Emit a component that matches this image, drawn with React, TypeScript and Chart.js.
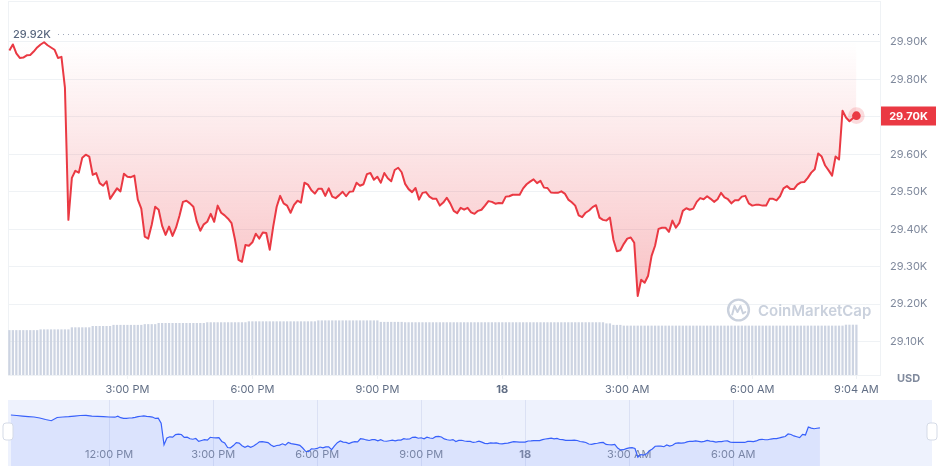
import { useEffect, useRef } from 'react';
import { Chart, registerables } from 'chart.js';

Chart.register(...registerables);

const FONT = 'Inter, "Noto Sans", "DejaVu Sans", sans-serif';

// Price (thousand USD) every 5 minutes, starting 12:10 PM (minute 10 after noon)
const priceValues = [
  29.877, 29.893, 29.869, 29.857, 29.858, 29.864, 29.865, 29.874, 29.885, 29.893,
  29.899, 29.891, 29.885, 29.879, 29.857, 29.860, 29.778, 29.425, 29.537, 29.556,
  29.551, 29.591, 29.599, 29.594, 29.545, 29.550, 29.523, 29.516, 29.528, 29.481,
  29.495, 29.509, 29.501, 29.548, 29.540, 29.539, 29.543, 29.479, 29.455, 29.380,
  29.375, 29.412, 29.460, 29.452, 29.409, 29.385, 29.407, 29.382, 29.404, 29.436,
  29.473, 29.476, 29.469, 29.460, 29.420, 29.396, 29.413, 29.420, 29.441, 29.420,
  29.463, 29.444, 29.437, 29.428, 29.416, 29.372, 29.318, 29.313, 29.358, 29.356,
  29.365, 29.388, 29.375, 29.391, 29.390, 29.345, 29.407, 29.460, 29.489, 29.469,
  29.463, 29.444, 29.465, 29.476, 29.471, 29.524, 29.519, 29.504, 29.495, 29.508,
  29.508, 29.489, 29.509, 29.487, 29.483, 29.491, 29.500, 29.488, 29.500, 29.501,
  29.524, 29.516, 29.520, 29.547, 29.550, 29.532, 29.540, 29.524, 29.550, 29.536,
  29.528, 29.558, 29.564, 29.552, 29.521, 29.507, 29.499, 29.510, 29.479, 29.497,
  29.499, 29.487, 29.481, 29.481, 29.463, 29.471, 29.484, 29.469, 29.449, 29.443,
  29.457, 29.452, 29.457, 29.445, 29.441, 29.449, 29.452, 29.463, 29.475, 29.473,
  29.468, 29.470, 29.469, 29.487, 29.488, 29.492, 29.492, 29.492, 29.509, 29.520,
  29.527, 29.533, 29.523, 29.529, 29.511, 29.510, 29.498, 29.497, 29.497, 29.501,
  29.495, 29.479, 29.472, 29.463, 29.437, 29.432, 29.444, 29.450, 29.459, 29.464,
  29.431, 29.425, 29.423, 29.431, 29.372, 29.341, 29.344, 29.361, 29.375, 29.378,
  29.364, 29.222, 29.265, 29.257, 29.276, 29.329, 29.356, 29.401, 29.404, 29.404,
  29.393, 29.423, 29.404, 29.417, 29.449, 29.456, 29.452, 29.455, 29.473, 29.483,
  29.480, 29.488, 29.481, 29.473, 29.480, 29.497, 29.485, 29.480, 29.469, 29.477,
  29.477, 29.487, 29.489, 29.469, 29.463, 29.465, 29.465, 29.463, 29.463, 29.481,
  29.481, 29.477, 29.488, 29.509, 29.515, 29.507, 29.507, 29.519, 29.525, 29.526,
  29.537, 29.551, 29.560, 29.602, 29.594, 29.570, 29.557, 29.543, 29.594, 29.586,
  29.716, 29.698, 29.688, 29.696, 29.703,
];

// 24h volume (billion USD), same timestamps as the prices
const volumeValues = [
  12.0, 12.0, 12.0, 12.0, 12.0, 12.0, 12.0, 12.0, 12.0,
  12.2, 12.2, 12.2, 12.2, 12.2, 12.2, 12.2, 12.2, 12.2,
  12.75, 12.75, 12.75, 12.75, 12.75, 12.75,
  13.1, 13.1, 13.1, 13.1, 13.1, 13.1,
  13.4, 13.4, 13.4, 13.4, 13.4, 13.4, 13.4, 13.4, 13.4,
  13.6, 13.6, 13.6, 13.6,
  13.9, 13.9, 13.9, 13.9, 13.9, 13.9, 13.9, 13.9, 13.9, 13.9, 13.9, 13.9, 13.9, 13.9,
  14.1, 14.1, 14.1, 14.1, 14.1, 14.1, 14.1, 14.1, 14.1, 14.1, 14.1, 14.1,
  14.35, 14.35, 14.35, 14.35, 14.35, 14.35, 14.35, 14.35, 14.35, 14.35,
  14.35, 14.35, 14.35, 14.35, 14.35, 14.35, 14.35, 14.35, 14.35, 14.35,
  14.6, 14.6, 14.6, 14.6, 14.6, 14.6, 14.6, 14.6, 14.6,
  14.6, 14.6, 14.6, 14.6, 14.6, 14.6, 14.6, 14.6, 14.6,
  14.2, 14.2, 14.2, 14.2, 14.2, 14.2, 14.2,
  14.1, 14.1, 14.1, 14.1, 14.1, 14.1, 14.1, 14.1, 14.1, 14.1,
  14.1, 14.1, 14.1, 14.1, 14.1, 14.1, 14.1, 14.1, 14.1, 14.1,
  14.1, 14.1, 14.1, 14.1, 14.1, 14.1, 14.1, 14.1, 14.1, 14.1,
  14.1, 14.1, 14.1, 14.1, 14.1, 14.1, 14.1, 14.1, 14.1, 14.1,
  14.1, 14.1, 14.1, 14.1, 14.1, 14.1, 14.1, 14.1, 14.1, 14.1,
  14.1, 14.1, 14.1, 14.1, 14.1, 14.1, 14.1, 14.1,
  13.8, 13.8,
  13.4, 13.4, 13.4,
  13.2, 13.2, 13.2, 13.2, 13.2, 13.2, 13.2, 13.2, 13.2, 13.2,
  13.2, 13.2, 13.2, 13.2, 13.2, 13.2, 13.2, 13.2, 13.2, 13.2,
  13.2, 13.2, 13.2, 13.2, 13.2, 13.2, 13.2, 13.2, 13.2, 13.2,
  13.2, 13.2, 13.2, 13.2, 13.2, 13.2, 13.2, 13.2, 13.2, 13.2,
  13.2, 13.2, 13.2, 13.2, 13.2, 13.2, 13.2, 13.2, 13.2, 13.2,
  13.2, 13.2, 13.2, 13.2, 13.2, 13.2, 13.2, 13.2, 13.2, 13.2,
  13.2, 13.2, 13.2, 13.2,
  13.45, 13.45, 13.45, 13.45,
];

// Navigator: earlier prices every 10 minutes from 9:10 AM (minute -170) to 12:00 PM
const navPrePrices = [
  29.913, 29.905, 29.896, 29.888, 29.880, 29.864, 29.839, 29.819, 29.872,
  29.880, 29.885, 29.896, 29.905, 29.908, 29.896, 29.891, 29.888, 29.880,
];

const priceTickValues = [29.1, 29.2, 29.3, 29.4, 29.5, 29.6, 29.7, 29.8, 29.9];
const xTickMinutes = [180, 360, 540, 720, 900, 1080, 1230];
const xTickLabels = ['3:00 PM', '6:00 PM', '9:00 PM', '18', '3:00 AM', '6:00 AM', '9:04 AM'];
const navTickMinutes = [0, 180, 360, 540, 720, 900, 1080];
const navTickLabels = ['12:00 PM', '3:00 PM', '6:00 PM', '9:00 PM', '18', '3:00 AM', '6:00 AM'];
const high24h = 29.922;
const openPrice = 29.9;

const FIRST_MINUTE = 10;
const STEP_MINUTES = 5;
const NAV_FIRST_MINUTE = -170;
const NAV_STEP_MINUTES = 10;

const RED = '#ea3943';

const mainDecor = {
  id: 'mainDecor',
  beforeDatasetsDraw(chart: any) {
    const { ctx, chartArea: a } = chart;
    ctx.save();
    ctx.strokeStyle = '#eff2f5';
    ctx.lineWidth = 1;
    ctx.beginPath();
    ctx.moveTo(a.left, a.top + 0.5);
    ctx.lineTo(a.right, a.top + 0.5);
    ctx.moveTo(a.left + 0.5, a.top);
    ctx.lineTo(a.left + 0.5, a.bottom);
    ctx.stroke();

    // watermark
    const cx = a.right - 141.5;
    const cy = a.bottom - 65;
    const wm = '#cad1dd';
    ctx.strokeStyle = wm;
    ctx.lineWidth = 2.4;
    ctx.beginPath();
    ctx.arc(cx, cy, 10.4, 0, Math.PI * 2);
    ctx.stroke();
    ctx.lineJoin = 'round';
    ctx.lineCap = 'round';
    ctx.lineWidth = 2;
    ctx.beginPath();
    ctx.moveTo(cx - 6.3, cy + 4.5);
    ctx.lineTo(cx - 4, cy - 4);
    ctx.lineTo(cx - 1, cy + 2);
    ctx.lineTo(cx + 2, cy - 4);
    ctx.lineTo(cx + 4.5, cy + 3.5);
    ctx.lineTo(cx + 6.8, cy + 2);
    ctx.stroke();
    ctx.fillStyle = wm;
    ctx.font = `600 15px ${FONT}`;
    ctx.textAlign = 'left';
    ctx.textBaseline = 'middle';
    ctx.fillText('CoinMarketCap', a.right - 122, cy + 1);
    ctx.restore();
  },
  afterDatasetsDraw(chart: any) {
    const { ctx, chartArea: a, scales } = chart;
    ctx.save();
    const yHigh = Math.round(scales.y.getPixelForValue(high24h)) + 0.5;
    ctx.strokeStyle = '#a1a9bb';
    ctx.lineWidth = 1;
    ctx.setLineDash([1, 4]);
    ctx.beginPath();
    ctx.moveTo(a.left + 50, yHigh);
    ctx.lineTo(a.right, yHigh);
    ctx.stroke();
    ctx.setLineDash([]);
    ctx.fillStyle = '#58667e';
    ctx.font = `500 11px ${FONT}`;
    ctx.textAlign = 'left';
    ctx.textBaseline = 'middle';
    ctx.fillText(high24h.toFixed(2) + 'K', a.left + 5, yHigh);

    const meta = chart.getDatasetMeta(0);
    const last = meta.data[meta.data.length - 1];
    ctx.fillStyle = 'rgba(234,57,67,0.18)';
    ctx.beginPath();
    ctx.arc(last.x, last.y, 8.3, 0, Math.PI * 2);
    ctx.fill();
    ctx.fillStyle = RED;
    ctx.beginPath();
    ctx.arc(last.x, last.y, 4.3, 0, Math.PI * 2);
    ctx.fill();
    ctx.restore();
  },
  afterDraw(chart: any) {
    const { ctx, chartArea: a } = chart;
    const meta = chart.getDatasetMeta(0);
    const last = meta.data[meta.data.length - 1];
    const lastVal = priceValues[priceValues.length - 1];
    ctx.save();
    ctx.fillStyle = RED;
    ctx.fillRect(a.right + 1, Math.round(last.y) - 9.5, 55, 19);
    ctx.fillStyle = '#ffffff';
    ctx.font = `bold 11px ${FONT}`;
    ctx.textAlign = 'center';
    ctx.textBaseline = 'middle';
    ctx.fillText(lastVal.toFixed(2) + 'K', a.right + 28.5, Math.round(last.y) + 0.5);

    ctx.fillStyle = '#808a9d';
    ctx.font = `bold 11px ${FONT}`;
    ctx.fillText('USD', a.right + 28.5, a.bottom + 4);
    ctx.restore();
  },
};

const navDecor = {
  id: 'navDecor',
  beforeDraw(chart: any) {
    const { ctx, chartArea: a } = chart;
    ctx.save();
    ctx.fillStyle = '#eef2fd';
    ctx.fillRect(a.left, a.top, a.right - a.left, a.bottom - a.top);
    ctx.restore();
  },
  beforeDatasetsDraw(chart: any) {
    const { ctx, chartArea: a, scales } = chart;
    ctx.save();
    ctx.strokeStyle = '#dbe1f4';
    ctx.lineWidth = 1;
    navTickMinutes.forEach((m) => {
      const x = Math.round(scales.x.getPixelForValue(m)) + 0.5;
      ctx.beginPath();
      ctx.moveTo(x, a.top);
      ctx.lineTo(x, a.bottom);
      ctx.stroke();
    });
    ctx.textAlign = 'center';
    ctx.textBaseline = 'middle';
    navTickMinutes.forEach((m, i) => {
      const x = scales.x.getPixelForValue(m);
      const lbl = navTickLabels[i];
      ctx.font = `${lbl === '18' ? 'bold ' : ''}11px ${FONT}`;
      ctx.fillStyle = '#808a9d';
      ctx.fillText(lbl, x, a.bottom - 11);
    });
    ctx.restore();
  },
  afterDraw(chart: any) {
    const { ctx, chartArea: a } = chart;
    ctx.save();
    [a.left, a.right].forEach((hx: number) => {
      const x = hx - 5;
      const y = 23;
      const w = 10;
      const h = 17;
      const r = 3;
      ctx.beginPath();
      ctx.moveTo(x + r, y);
      ctx.lineTo(x + w - r, y);
      ctx.quadraticCurveTo(x + w, y, x + w, y + r);
      ctx.lineTo(x + w, y + h - r);
      ctx.quadraticCurveTo(x + w, y + h, x + w - r, y + h);
      ctx.lineTo(x + r, y + h);
      ctx.quadraticCurveTo(x, y + h, x, y + h - r);
      ctx.lineTo(x, y + r);
      ctx.quadraticCurveTo(x, y, x + r, y);
      ctx.closePath();
      ctx.fillStyle = '#ffffff';
      ctx.fill();
      ctx.strokeStyle = '#d5dbe7';
      ctx.lineWidth = 1;
      ctx.stroke();
    });
    ctx.restore();
  },
};

export default function App() {
  const mainRef = useRef<HTMLCanvasElement | null>(null);
  const navRef = useRef<HTMLCanvasElement | null>(null);

  useEffect(() => {
    if (!mainRef.current || !navRef.current) return;
    Chart.defaults.font.family = FONT;

    const pricePoints = priceValues.map((p, i) => ({ x: FIRST_MINUTE + i * STEP_MINUTES, y: p }));
    const volumePoints = volumeValues.map((v, i) => ({ x: FIRST_MINUTE + i * STEP_MINUTES, y: v }));

    const main = new Chart(mainRef.current, {
      type: 'line',
      data: {
        datasets: [
          {
            type: 'line',
            label: 'Price',
            data: pricePoints,
            xAxisID: 'x',
            yAxisID: 'y',
            borderColor: RED,
            borderWidth: 2,
            borderJoinStyle: 'round',
            pointRadius: 0,
            tension: 0,
            fill: { value: openPrice },
            backgroundColor: (c: any) => {
              const chart = c.chart;
              if (!chart.chartArea || !chart.scales.y) return 'rgba(234,57,67,0.12)';
              const top = chart.scales.y.getPixelForValue(openPrice);
              const bottom = chart.scales.y.getPixelForValue(29.2);
              const g = chart.ctx.createLinearGradient(0, top, 0, bottom);
              g.addColorStop(0, 'rgba(234,57,67,0.0)');
              g.addColorStop(1, 'rgba(234,57,67,0.32)');
              return g;
            },
            order: 1,
          } as any,
          {
            type: 'bar',
            label: 'Volume',
            data: volumePoints,
            xAxisID: 'x',
            yAxisID: 'yVol',
            backgroundColor: '#cdd4e2',
            barPercentage: 0.65,
            categoryPercentage: 1,
            order: 2,
          } as any,
        ],
      },
      options: {
        responsive: false,
        animation: false,
        events: [],
        layout: { padding: { left: 8, top: 1, right: 0, bottom: 0 } },
        plugins: { legend: { display: false }, tooltip: { enabled: false } },
        scales: {
          x: {
            type: 'linear',
            offset: false,
            min: 8,
            max: 1264,
            afterBuildTicks: (s: any) => {
              s.ticks = xTickMinutes.map((v) => ({ value: v }));
            },
            afterFit: (s: any) => {
              s.height = 25;
              s.paddingLeft = 0;
              s.paddingRight = 0;
            },
            grid: { drawOnChartArea: false, tickLength: 4, color: '#eff2f5', offset: false },
            border: { color: '#eff2f5' },
            ticks: {
              autoSkip: false,
              maxRotation: 0,
              padding: 4,
              color: '#616e85',
              font: (c: any) => ({
                family: FONT,
                size: 11,
                weight: c.tick && c.tick.label === '18' ? 'bold' : 'normal',
              }),
              callback: (_v: any, i: number) => xTickLabels[i],
            },
          },
          y: {
            type: 'linear',
            position: 'right',
            min: 29.011,
            max: 30.009,
            afterBuildTicks: (s: any) => {
              s.ticks = priceTickValues.map((v) => ({ value: v }));
            },
            afterFit: (s: any) => {
              s.width = 65;
              s.paddingTop = 0;
              s.paddingBottom = 0;
            },
            grid: { color: '#eff2f5', drawTicks: false },
            border: { color: '#eff2f5' },
            ticks: {
              padding: 10,
              color: '#808a9d',
              font: { family: FONT, size: 11 },
              callback: (v: any) => Number(v).toFixed(2) + 'K',
            },
          },
          yVol: { type: 'linear', display: false, min: 0, max: 100 },
        },
      } as any,
      plugins: [mainDecor],
    });

    const navPoints = [
      ...navPrePrices.map((p, i) => ({ x: NAV_FIRST_MINUTE + i * NAV_STEP_MINUTES, y: p })),
      ...pricePoints,
    ];

    const nav = new Chart(navRef.current, {
      type: 'line',
      data: {
        datasets: [
          {
            data: navPoints,
            borderColor: '#3861fb',
            borderWidth: 1.2,
            pointRadius: 0,
            tension: 0,
            fill: 'start',
            backgroundColor: 'rgba(56,97,251,0.1)',
          },
        ],
      },
      options: {
        responsive: false,
        animation: false,
        events: [],
        layout: { padding: { left: 8, right: 13, top: 0, bottom: 10 } },
        plugins: { legend: { display: false }, tooltip: { enabled: false } },
        scales: {
          x: { type: 'linear', display: false, min: -175, max: 1424 },
          y: { type: 'linear', display: false, min: 29.077, max: 30.159 },
        },
      } as any,
      plugins: [navDecor],
    });

    return () => {
      main.destroy();
      nav.destroy();
    };
  }, []);

  return (
    <div style={{ position: 'absolute', left: 0, top: 0, width: 945, height: 476, background: '#ffffff' }}>
      <canvas ref={mainRef} width={945} height={400} style={{ display: 'block' }} />
      <canvas ref={navRef} width={945} height={76} style={{ display: 'block' }} />
    </div>
  );
}
